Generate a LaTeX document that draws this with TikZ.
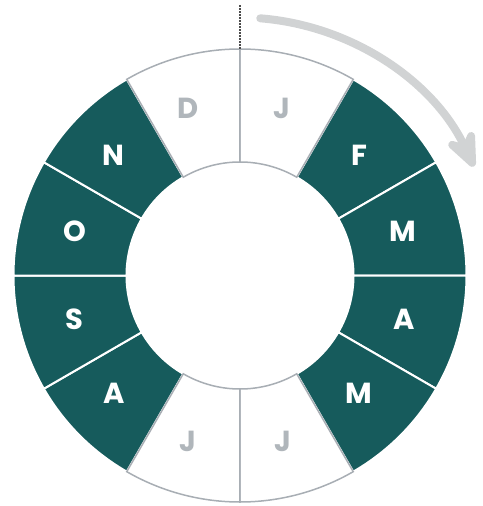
\documentclass[tikz,border=0pt]{standalone}
\usepackage{fontspec}
\setmainfont{Poppins}
\usepackage{xcolor}
\usepackage{tikz}
\usetikzlibrary{arrows.meta}
\definecolor{cteal}{RGB}{22,91,92}
\definecolor{lightgray}{RGB}{168,174,180}
\definecolor{lettergray}{RGB}{176,182,187}
\definecolor{arrowgray}{RGB}{209,211,212}

\begin{document}
\begin{tikzpicture}[
    x=1pt, y=1pt,
    darkcell/.style={fill=cteal, draw=white, line width=2pt},
    lightcell/.style={fill=white, draw=lightgray, line width=1.5pt},
    month/.style={font=\fontsize{29}{31}\selectfont\bfseries},
]
    \useasboundingbox (-240,-230.5) rectangle (242,275.5);
    \def\rin{113.5}
    \def\rout{226.5}
    % dark months first, light months drawn over them
    \foreach \lab/\i/\dx/\dy in {F/1/-1/0, M/2/-1/0, A/3/0/0, M/4/-1/2, A/7/-6/2, S/8/-1/0, O/9/-1/0, N/10/-6/0} {
        \pgfmathsetmacro{\a}{90-30*\i}
        \pgfmathsetmacro{\b}{60-30*\i}
        \draw[darkcell] (\a:\rout) arc[start angle=\a, end angle=\b, radius=\rout]
            -- (\b:\rin) arc[start angle=\b, end angle=\a, radius=\rin] -- cycle;
        \node[month, text=white, xshift=\dx, yshift=\dy] (m\i) at ({75-30*\i}:170) {\lab};
    }
    \foreach \lab/\i/\dx/\dy in {J/0/-2/3, J/5/-1/-2, J/6/-8/-2, D/11/-8/3} {
        \pgfmathsetmacro{\a}{90-30*\i}
        \pgfmathsetmacro{\b}{60-30*\i}
        \draw[lightcell] (\a:\rout) arc[start angle=\a, end angle=\b, radius=\rout]
            -- (\b:\rin) arc[start angle=\b, end angle=\a, radius=\rin] -- cycle;
        \node[month, text=lettergray, xshift=\dx, yshift=\dy] (m\i) at ({75-30*\i}:170) {\lab};
    }
    % start marker and direction
    \coordinate (top) at (90:\rout);
    \coordinate (mark) at (0,270.5);
    \draw[densely dotted, gray!60!black, line width=2pt] (top) -- (mark);
    \draw[arrowgray, line width=8pt, line cap=round, -{Stealth[length=48pt, width=40pt, inset=17pt, round]}]
        (85.5:258) arc[start angle=85.5, end angle=25, radius=258];
\end{tikzpicture}
\end{document}
